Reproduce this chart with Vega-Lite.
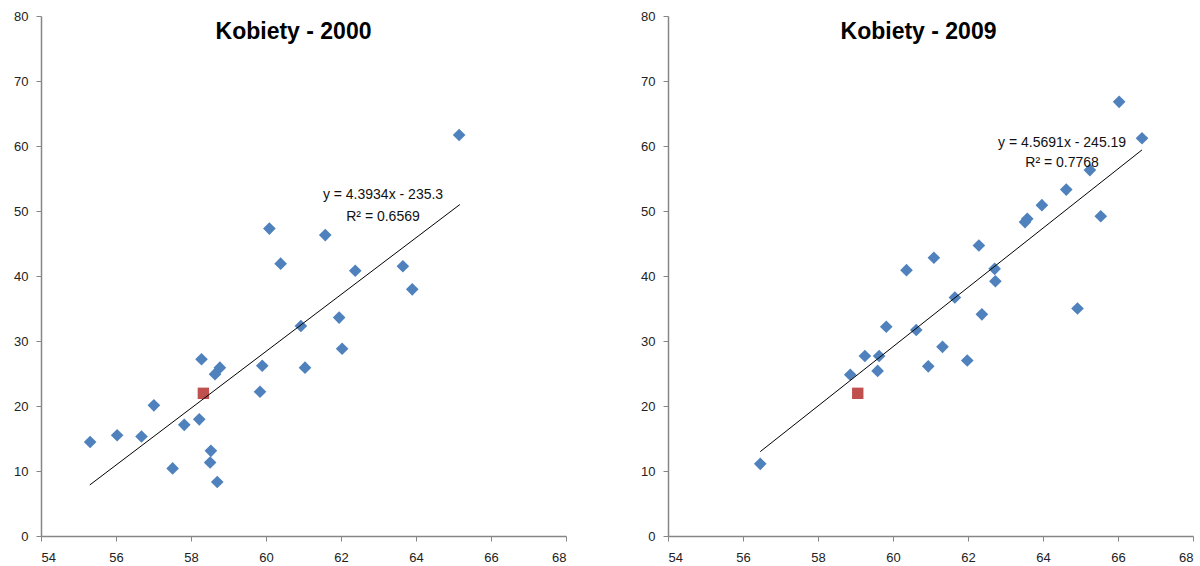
{
  "$schema": "https://vega.github.io/schema/vega-lite/v6.json",
  "background": "white",
  "padding": {"left": 13, "top": 10, "right": 0, "bottom": 0},
  "bounds": "flush",
  "spacing": 102,
  "config": {
    "view": {"stroke": null},
    "font": "Liberation Sans",
    "axis": {
      "grid": false,
      "domainColor": "#868686",
      "tickColor": "#868686",
      "domainWidth": 1.5,
      "tickWidth": 1,
      "tickSize": 5,
      "labelColor": "#222222",
      "labelFont": "Liberation Sans",
      "labelFontSize": 13,
      "title": null
    }
  },
  "datasets": {
    "pts2000": [
      {"x": 55.31, "y": 14.46, "grupa": "kraj"},
      {"x": 56.03, "y": 15.5, "grupa": "kraj"},
      {"x": 56.68, "y": 15.3, "grupa": "kraj"},
      {"x": 57.01, "y": 20.1, "grupa": "kraj"},
      {"x": 57.51, "y": 10.4, "grupa": "kraj"},
      {"x": 57.82, "y": 17.1, "grupa": "kraj"},
      {"x": 58.22, "y": 17.95, "grupa": "kraj"},
      {"x": 58.28, "y": 27.2, "grupa": "kraj"},
      {"x": 58.53, "y": 13.1, "grupa": "kraj"},
      {"x": 58.51, "y": 11.3, "grupa": "kraj"},
      {"x": 58.64, "y": 24.9, "grupa": "kraj"},
      {"x": 58.77, "y": 25.9, "grupa": "kraj"},
      {"x": 58.70, "y": 8.3, "grupa": "kraj"},
      {"x": 59.84, "y": 22.2, "grupa": "kraj"},
      {"x": 59.90, "y": 26.2, "grupa": "kraj"},
      {"x": 60.09, "y": 47.3, "grupa": "kraj"},
      {"x": 60.39, "y": 41.9, "grupa": "kraj"},
      {"x": 60.93, "y": 32.3, "grupa": "kraj"},
      {"x": 61.04, "y": 25.9, "grupa": "kraj"},
      {"x": 61.58, "y": 46.3, "grupa": "kraj"},
      {"x": 61.95, "y": 33.6, "grupa": "kraj"},
      {"x": 62.03, "y": 28.8, "grupa": "kraj"},
      {"x": 62.38, "y": 40.8, "grupa": "kraj"},
      {"x": 63.65, "y": 41.5, "grupa": "kraj"},
      {"x": 63.90, "y": 37.95, "grupa": "kraj"},
      {"x": 65.15, "y": 61.7, "grupa": "kraj"},
      {"x": 58.33, "y": 21.95, "grupa": "Polska"}
    ],
    "pts2009": [
      {"x": 56.46, "y": 11.1, "grupa": "kraj"},
      {"x": 58.86, "y": 24.8, "grupa": "kraj"},
      {"x": 59.25, "y": 27.7, "grupa": "kraj"},
      {"x": 59.59, "y": 25.4, "grupa": "kraj"},
      {"x": 59.63, "y": 27.7, "grupa": "kraj"},
      {"x": 59.82, "y": 32.2, "grupa": "kraj"},
      {"x": 60.36, "y": 40.9, "grupa": "kraj"},
      {"x": 60.62, "y": 31.7, "grupa": "kraj"},
      {"x": 60.94, "y": 26.1, "grupa": "kraj"},
      {"x": 61.09, "y": 42.8, "grupa": "kraj"},
      {"x": 61.32, "y": 29.1, "grupa": "kraj"},
      {"x": 61.65, "y": 36.7, "grupa": "kraj"},
      {"x": 61.98, "y": 27.0, "grupa": "kraj"},
      {"x": 62.29, "y": 44.7, "grupa": "kraj"},
      {"x": 62.37, "y": 34.1, "grupa": "kraj"},
      {"x": 62.71, "y": 41.1, "grupa": "kraj"},
      {"x": 62.73, "y": 39.2, "grupa": "kraj"},
      {"x": 63.52, "y": 48.3, "grupa": "kraj"},
      {"x": 63.58, "y": 48.8, "grupa": "kraj"},
      {"x": 63.97, "y": 50.9, "grupa": "kraj"},
      {"x": 64.62, "y": 53.3, "grupa": "kraj"},
      {"x": 64.92, "y": 35.0, "grupa": "kraj"},
      {"x": 65.25, "y": 56.3, "grupa": "kraj"},
      {"x": 65.54, "y": 49.2, "grupa": "kraj"},
      {"x": 66.03, "y": 66.8, "grupa": "kraj"},
      {"x": 66.64, "y": 61.2, "grupa": "kraj"},
      {"x": 59.06, "y": 21.95, "grupa": "Polska"}
    ],
    "trend2000": [
      {"x": 55.3, "y": 7.85},
      {"x": 65.17, "y": 51.0}
    ],
    "trend2009": [
      {"x": 56.46, "y": 12.98},
      {"x": 66.64, "y": 59.4}
    ],
    "eq2000": [
      {"x": 63.12, "y": 51.8, "tekst": "y = 4.3934x - 235.3"},
      {"x": 63.12, "y": 48.46, "tekst": "R² = 0.6569"}
    ],
    "eq2009": [
      {"x": 64.51, "y": 59.9, "tekst": "y = 4.5691x - 245.19"},
      {"x": 64.51, "y": 56.8, "tekst": "R² = 0.7768"}
    ]
  },
  "hconcat": [
    {
      "width": 525,
      "height": 520,
      "title": {"text": "Kobiety - 2000", "font": "Liberation Sans", "fontSize": 23, "fontWeight": "bold", "color": "#000000", "frame": "group", "anchor": "middle", "dx": -10, "offset": -34},
      "layer": [
        {
          "data": {"name": "pts2000"},
          "transform": [{"filter": "datum.grupa === 'kraj'"}],
          "mark": {"type": "point", "shape": "diamond", "filled": true, "opacity": 1, "color": "#4F81BD", "size": 160},
          "encoding": {
            "x": {"field": "x", "type": "quantitative", "scale": {"domain": [54, 68], "nice": false, "zero": false}, "axis": {"values": [54, 56, 58, 60, 62, 64, 66, 68], "labelPadding": 10}},
            "y": {"field": "y", "type": "quantitative", "scale": {"domain": [0, 80], "nice": false}, "axis": {"values": [0, 10, 20, 30, 40, 50, 60, 70, 80], "labelPadding": 8}}
          }
        },
        {
          "data": {"name": "pts2000"},
          "transform": [{"filter": "datum.grupa === 'Polska'"}],
          "mark": {"type": "point", "shape": "square", "filled": true, "opacity": 1, "color": "#C0504D", "size": 130},
          "encoding": {
            "x": {"field": "x", "type": "quantitative"},
            "y": {"field": "y", "type": "quantitative"}
          }
        },
        {
          "data": {"name": "trend2000"},
          "mark": {"type": "line", "color": "#000000", "strokeWidth": 1},
          "encoding": {
            "x": {"field": "x", "type": "quantitative"},
            "y": {"field": "y", "type": "quantitative"}
          }
        },
        {
          "data": {"name": "eq2000"},
          "mark": {"type": "text", "font": "Liberation Sans", "fontSize": 14, "align": "center", "baseline": "alphabetic", "color": "#111111"},
          "encoding": {
            "x": {"field": "x", "type": "quantitative"},
            "y": {"field": "y", "type": "quantitative"},
            "text": {"field": "tekst"}
          }
        }
      ]
    },
    {
      "width": 525,
      "height": 520,
      "title": {"text": "Kobiety - 2009", "font": "Liberation Sans", "fontSize": 23, "fontWeight": "bold", "color": "#000000", "frame": "group", "anchor": "middle", "dx": -12, "offset": -34},
      "layer": [
        {
          "data": {"name": "pts2009"},
          "transform": [{"filter": "datum.grupa === 'kraj'"}],
          "mark": {"type": "point", "shape": "diamond", "filled": true, "opacity": 1, "color": "#4F81BD", "size": 160},
          "encoding": {
            "x": {"field": "x", "type": "quantitative", "scale": {"domain": [54, 68], "nice": false, "zero": false}, "axis": {"values": [54, 56, 58, 60, 62, 64, 66, 68], "labelPadding": 10}},
            "y": {"field": "y", "type": "quantitative", "scale": {"domain": [0, 80], "nice": false}, "axis": {"values": [0, 10, 20, 30, 40, 50, 60, 70, 80], "labelPadding": 8}}
          }
        },
        {
          "data": {"name": "pts2009"},
          "transform": [{"filter": "datum.grupa === 'Polska'"}],
          "mark": {"type": "point", "shape": "square", "filled": true, "opacity": 1, "color": "#C0504D", "size": 130},
          "encoding": {
            "x": {"field": "x", "type": "quantitative"},
            "y": {"field": "y", "type": "quantitative"}
          }
        },
        {
          "data": {"name": "trend2009"},
          "mark": {"type": "line", "color": "#000000", "strokeWidth": 1},
          "encoding": {
            "x": {"field": "x", "type": "quantitative"},
            "y": {"field": "y", "type": "quantitative"}
          }
        },
        {
          "data": {"name": "eq2009"},
          "mark": {"type": "text", "font": "Liberation Sans", "fontSize": 14, "align": "center", "baseline": "alphabetic", "color": "#111111"},
          "encoding": {
            "x": {"field": "x", "type": "quantitative"},
            "y": {"field": "y", "type": "quantitative"},
            "text": {"field": "tekst"}
          }
        }
      ]
    }
  ]
}
